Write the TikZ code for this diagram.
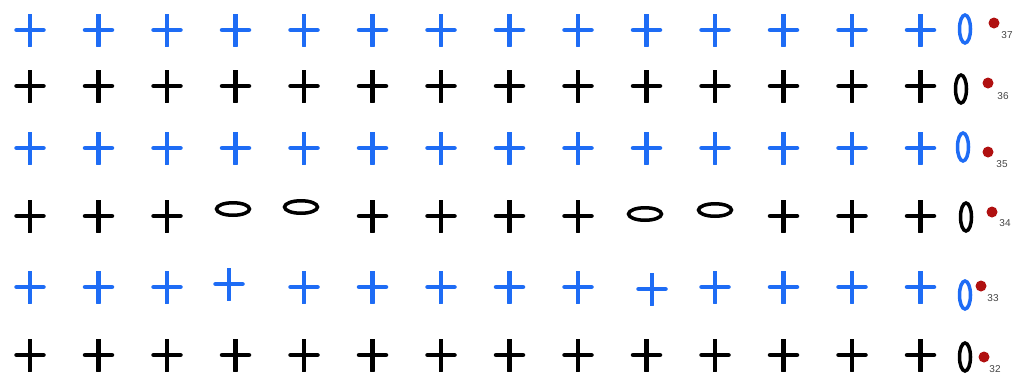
\documentclass[tikz,border=0pt]{standalone}
\usepackage{fontspec}
\setsansfont{Liberation Sans}
\usepackage{tikz}
\usetikzlibrary{shapes.geometric}
\usepackage{xcolor}
\definecolor{StitchBlue}{HTML}{1E6CF5}
\definecolor{DotRed}{HTML}{B01010}
\definecolor{NumGrey}{HTML}{444444}
\tikzset{
  stitch/.style={minimum size=32pt, inner sep=0pt, outer sep=0pt,
    path picture={\draw[line width=4.5pt, line cap=round, #1,
      shorten <=2.5pt, shorten >=2.5pt]
      (path picture bounding box.north) -- (path picture bounding box.south)
      (path picture bounding box.west) -- (path picture bounding box.east);}},
  stitch/.default={black},
  chainh/.style={ellipse, draw=#1, line width=3.5pt, minimum width=33pt,
    minimum height=12.5pt, inner sep=0pt},
  chainh/.default={black},
  chainv/.style={ellipse, draw=#1, line width=3.5pt, minimum width=11pt,
    minimum height=28pt, inner sep=0pt},
  chainv/.default={black},
  marker/.style={circle, fill=DotRed, minimum size=11pt, inner sep=0pt},
  rownum/.style={font=\sffamily\fontsize{10}{10}\selectfont, text=NumGrey,
    inner sep=0pt},
}

\begin{document}
\begin{tikzpicture}[x=1pt,y=-1pt]
  \useasboundingbox (0,0) rectangle (1015,376);
  % plain rows
  \foreach \r/\y/\col in {37/30/StitchBlue, 36/86/black, 35/148/StitchBlue, 32/355/black} {
    \foreach \i in {1,...,14}
      \node[stitch=\col] (s\r-\i) at ({30+68.5*(\i-1)},\y) {};
  }
  % row 34 with chains
  \foreach \i in {1,2,3,6,7,8,9,12,13,14}
    \node[stitch] (s34-\i) at ({30+68.5*(\i-1)},216) {};
  \node[chainh] (s34-4) at (233,209) {};
  \node[chainh] (s34-5) at (301,207) {};
  \node[chainh] (s34-10) at (645,214) {};
  \node[chainh] (s34-11) at (715,210) {};
  % row 33
  \foreach \i in {1,2,3,5,6,7,8,9,11,12,13,14}
    \node[stitch=StitchBlue] (s33-\i) at ({30+68.5*(\i-1)},287) {};
  \node[stitch=StitchBlue] (s33-4) at (229,284) {};
  \node[stitch=StitchBlue] (s33-10) at (652,289) {};
  % turning chains, markers, row numbers
  \foreach \r/\cx/\cy/\col/\dx/\dy/\lx/\ly in {
      37/965/29/StitchBlue/994/23/1007/35,
      36/961/89/black/988/83/1003/96,
      35/963/147/StitchBlue/988/152/1002/164,
      34/966/217/black/992/212/1005/223,
      33/965/295/StitchBlue/981/286/993/298,
      32/965/357/black/984/357/995/369} {
    \node[chainv=\col] (ch\r) at (\cx,\cy) {};
    \node[marker] (m\r) at (\dx,\dy) {};
    \node[rownum] (n\r) at (\lx,\ly) {\r};
  }
\end{tikzpicture}
\end{document}
